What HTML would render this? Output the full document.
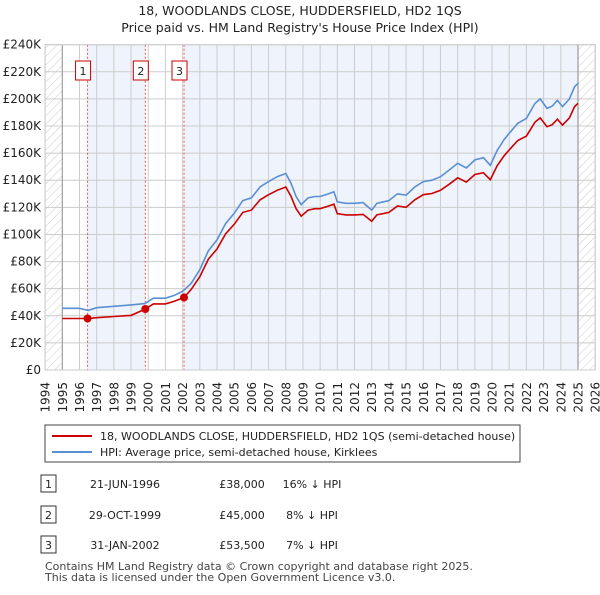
<!DOCTYPE html>
<html><head><meta charset="utf-8"><style>
body{margin:0;background:#fff;font-family:"Liberation Sans","DejaVu Sans",sans-serif;}
svg text{font-family:"DejaVu Sans","Liberation Sans",sans-serif;}
</style></head><body>
<svg id="c" width="600" height="590" xmlns="http://www.w3.org/2000/svg">
<defs><pattern id="hatch" width="6" height="6" patternUnits="userSpaceOnUse" patternTransform="rotate(45)"><line x1="0" y1="0" x2="0" y2="6" stroke="#ccc" stroke-width="1"/></pattern></defs>
<text x="300" y="15" text-anchor="middle" font-size="12.5" fill="#222">18, WOODLANDS CLOSE, HUDDERSFIELD, HD2 1QS</text>
<text x="300" y="32" text-anchor="middle" font-size="12.5" fill="#222">Price paid vs. HM Land Registry's House Price Index (HPI)</text>
<g id="plot"></g>
<g>
<rect x="45" y="425" width="475" height="37" fill="#fff" stroke="#444" stroke-width="1"/>
<line x1="52" y1="436" x2="92" y2="436" stroke="#cc0000" stroke-width="2"/>
<text x="100" y="440" font-size="11" fill="#222">18, WOODLANDS CLOSE, HUDDERSFIELD, HD2 1QS (semi-detached house)</text>
<line x1="52" y1="452" x2="92" y2="452" stroke="#5b8fd4" stroke-width="2"/>
<text x="100" y="456" font-size="11" fill="#222">HPI: Average price, semi-detached house, Kirklees</text>
</g>
<g id="tbl" font-size="11" fill="#222"></g>
<text x="45" y="570" font-size="11" fill="#444">Contains HM Land Registry data © Crown copyright and database right 2025.</text>
<text x="45" y="581" font-size="11" fill="#444">This data is licensed under the Open Government Licence v3.0.</text>
</svg>
<script>
const hpiYears=[1995,1996,1996.5,1997,1998,1999,1999.8,2000.3,2001,2001.5,2002,2002.5,2003,2003.5,2004,2004.5,2005,2005.5,2006,2006.5,2007,2007.5,2008,2008.3,2008.6,2008.9,2009.3,2009.7,2010,2010.5,2010.8,2011,2011.5,2012,2012.5,2013,2013.3,2014,2014.5,2015,2015.5,2016,2016.5,2017,2017.5,2018,2018.5,2019,2019.5,2019.9,2020.3,2020.7,2021,2021.5,2022,2022.5,2022.8,2023.2,2023.5,2023.8,2024.1,2024.5,2024.8,2025];
const hpiValues=[45.5,45.5,44,46,47,48,49,53,53,55,58,64,74,88,96,108,115.6,125,127,135,139,142.6,145,138,128,122,127,128,128,130,131.5,124,123,123,123.5,118,123,125,130,129,135,139,140,142.6,147.5,152.5,149,155,156.6,151,162,170,174.6,182,185.6,196.7,200,193,194.7,199,194.3,200,209,211.5];
const priceYears=[1995,1996,1996.47,1997,1998,1999,1999.83,2000.3,2001,2001.5,2002.08,2002.5,2003,2003.5,2004,2004.5,2005,2005.5,2006,2006.5,2007,2007.5,2008,2008.3,2008.6,2008.9,2009.3,2009.7,2010,2010.5,2010.8,2011,2011.5,2012,2012.5,2013,2013.3,2014,2014.5,2015,2015.5,2016,2016.5,2017,2017.5,2018,2018.5,2019,2019.5,2019.9,2020.3,2020.7,2021,2021.5,2022,2022.5,2022.8,2023.2,2023.5,2023.8,2024.1,2024.5,2024.8,2025];
const priceValues=[38,38,38,38.6,39.5,40.3,45,48.8,48.8,50.6,53.5,59.5,68.8,81.8,89.3,100.4,107.5,116.3,118,125.5,129.3,132.6,135,128.3,119,113.5,118,119,119,121,122.3,115.3,114.4,114.4,114.8,109.7,114.4,116.3,121,120,125.5,129.3,130.2,132.6,137,141.8,138.6,144.2,145.6,140.4,150.7,158,162.4,169.3,172.6,182.9,186,179.5,181,185,180.7,186,194.4,196.7];
const saleLabels=["1","2","3"];
const saleYears=[1996.47,1999.83,2002.08];
const salePrices=[38,45,53.5];
const saleDates=["21-JUN-1996","29-OCT-1999","31-JAN-2002"];
const salePriceText=["£38,000","£45,000","£53,500"];
const saleHpiText=["16% ↓ HPI","8% ↓ HPI","7% ↓ HPI"];
const yTicks=[0,20,40,60,80,100,120,140,160,180,200,220,240];
const xTicks=[1994,1995,1996,1997,1998,1999,2000,2001,2002,2003,2004,2005,2006,2007,2008,2009,2010,2011,2012,2013,2014,2015,2016,2017,2018,2019,2020,2021,2022,2023,2024,2025,2026];

const NS="http://www.w3.org/2000/svg";
const X0=45.1,PX=17.19,Y0=370,PY=(370-44.7)/240;
const xs=y=>X0+(y-1994)*PX, ys=v=>Y0-v*PY;
const g=document.getElementById('plot');
function mk(t,a,p){const e=document.createElementNS(NS,t);for(const k in a)e.setAttribute(k,a[k]);(p||g).appendChild(e);return e;}
let e;
e=mk('rect',{x:xs(1994),y:ys(240),width:xs(2026)-xs(1994),height:ys(0)-ys(240),fill:'#fff'});


e=mk('rect',{x:xs(1994),y:ys(240),width:xs(1995)-xs(1994),height:ys(0)-ys(240),fill:'url(#hatch)'});


e=mk('rect',{x:xs(2025),y:ys(240),width:xs(2026)-xs(2025),height:ys(0)-ys(240),fill:'url(#hatch)'});


[[saleYears[0],saleYears[1]],[saleYears[2],2025]].forEach(b=>{
 const r=mk('rect',{x:xs(b[0]),y:ys(240),width:xs(b[1])-xs(b[0]),height:ys(0)-ys(240),fill:'#eef3fc'});
 
 
});
xTicks.forEach(t=>{
 const l=mk('line',{x1:xs(t),x2:xs(t),y1:ys(240),y2:ys(0),stroke:'#ccc','stroke-width':1});
 
 
 const tx=mk('text',{x:0,y:0,'text-anchor':'end','font-size':12,fill:'#222',transform:'translate('+(xs(t)+4.5)+',382) rotate(-90)'});
 tx.textContent=t;
 
 
});
yTicks.forEach(t=>{
 const l=mk('line',{x1:xs(1994),x2:xs(2026),y1:ys(t),y2:ys(t),stroke:'#ccc','stroke-width':1});
 
 
 const tx=mk('text',{x:41,y:ys(t)+4,'text-anchor':'end','font-size':12,fill:'#222'});
 tx.textContent=t===0?'£0':'£'+t+'K';
 
 
});
e=mk('line',{x1:xs(1995),x2:xs(1995),y1:ys(240),y2:ys(0),stroke:'#999','stroke-width':1});


e=mk('line',{x1:xs(2025),x2:xs(2025),y1:ys(240),y2:ys(0),stroke:'#999','stroke-width':1.2});


saleYears.forEach((y,i)=>{
 const l=mk('line',{x1:xs(y),x2:xs(y),y1:ys(240),y2:ys(0),stroke:'#e55','stroke-width':1,'stroke-dasharray':'2,2'});
 
 
 const r=mk('rect',{x:xs(y)-12,y:61,width:15,height:19,fill:'#fff',stroke:'#cc0000','stroke-width':1});
 
 
 const t=mk('text',{x:xs(y)-4.5,y:75,'text-anchor':'middle','font-size':11,fill:'#222'});
 t.textContent=saleLabels[i];
 
 
});
function path(X,V){return X.map((x,i)=>(i?'L':'M')+xs(x).toFixed(1)+','+ys(V[i]).toFixed(1)).join('');}
e=mk('path',{d:path(hpiYears,hpiValues),fill:'none',stroke:'#5b8fd4','stroke-width':1.6});


e=mk('path',{d:path(priceYears,priceValues),fill:'none',stroke:'#cc0000','stroke-width':1.6});


saleYears.forEach((y,i)=>{
 const c=mk('circle',{cx:xs(y),cy:ys(salePrices[i]),r:4,fill:'#cc0000'});
 
 
});
e=mk('rect',{x:xs(1994),y:ys(240),width:xs(2026)-xs(1994),height:ys(0)-ys(240),fill:'none',stroke:'#ccc'});


const tb=document.getElementById('tbl');
const rowY=[487,518,548];
saleLabels.forEach((s,i)=>{
 const y=rowY[i];
 const r=mk('rect',{x:41,y:y-12,width:15,height:17,fill:'#fff',stroke:'#333','stroke-width':1},tb);
 
 
 const cells=[[48.5,s,'table-row-number'],[125,saleDates[i],'table-date'],[242,salePriceText[i],'table-price'],[312,saleHpiText[i],'table-hpi-diff']];
 cells.forEach(c=>{
  const t=mk('text',{x:c[0],y:y+1,'text-anchor':'middle'},tb);
  t.textContent=c[1];
  
  
 });
});
</script>
</body></html>
